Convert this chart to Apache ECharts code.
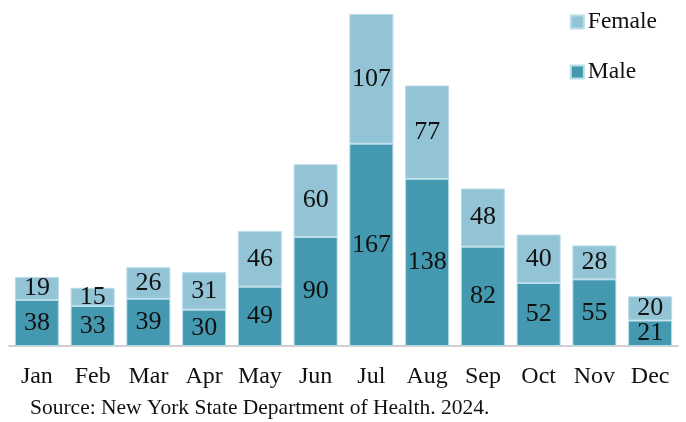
<!DOCTYPE html>
<html>
<head>
<meta charset="utf-8">
<script src="https://cdn.jsdelivr.net/npm/echarts@6/dist/echarts.min.js"></script>
<style>
  html, body { margin: 0; padding: 0; background: #fff; }
  #ChartDom { width: 686px; height: 422px; }
</style>
</head>
<body>
<div id="ChartDom"></div>
<script>
const months = ["Jan", "Feb", "Mar", "Apr", "May", "Jun", "Jul", "Aug", "Sep", "Oct", "Nov", "Dec"]
const male = [38, 33, 39, 30, 49, 90, 167, 138, 82, 52, 55, 21]
const female = [19, 15, 26, 31, 46, 60, 107, 77, 48, 40, 28, 20]
const sourceText = "Source: New York State Department of Health. 2024."

const font = "'Liberation Serif', 'Times New Roman', serif"
const chartDom = document.getElementById("ChartDom")
const myChart = echarts.init(chartDom)

const labelStyle = {
  show: true,
  position: "inside",
  color: "#111",
  fontFamily: font,
  fontSize: 26,
}

let option = {
  animation: false,
  color: ["#4499b0", "#93c4d6"],
  legend: {
    orient: "vertical",
    right: 24,
    top: 5,
    itemWidth: 13,
    itemHeight: 13,
    itemGap: 26,
    icon: "rect",
    data: ["Female", "Male"],
    textStyle: { fontFamily: font, fontSize: 23.5, color: "#111", padding: [0, 0, 0, -1] },
  },
  graphic: [
    {
      type: "text",
      left: 30,
      top: 397,
      style: { text: sourceText, fontFamily: font, fontSize: 21.5, fill: "#111" },
    },
  ],
  grid: { left: 9, right: 8, top: 14, bottom: 76, containLabel: false },
  xAxis: {
    type: "category",
    data: months,
    axisLine: { show: true, lineStyle: { color: "#d0d0d0", width: 2 } },
    axisTick: { show: false },
    axisLabel: { interval: 0, color: "#111", fontFamily: font, fontSize: 24, margin: 19 },
  },
  yAxis: {
    type: "value",
    min: 0,
    max: 274,
    show: false,
    splitLine: { show: false },
  },
  series: [
    {
      name: "Male",
      type: "bar",
      stack: "total",
      barWidth: "79%",
      data: male,
      label: labelStyle,
      itemStyle: { borderColor: "#b9dde9", borderWidth: 1 },
    },
    {
      name: "Female",
      type: "bar",
      stack: "total",
      data: female,
      label: labelStyle,
      itemStyle: { borderColor: "#b9dde9", borderWidth: 1 },
    },
  ],
}
myChart.setOption(option)
</script>
</body>
</html>
